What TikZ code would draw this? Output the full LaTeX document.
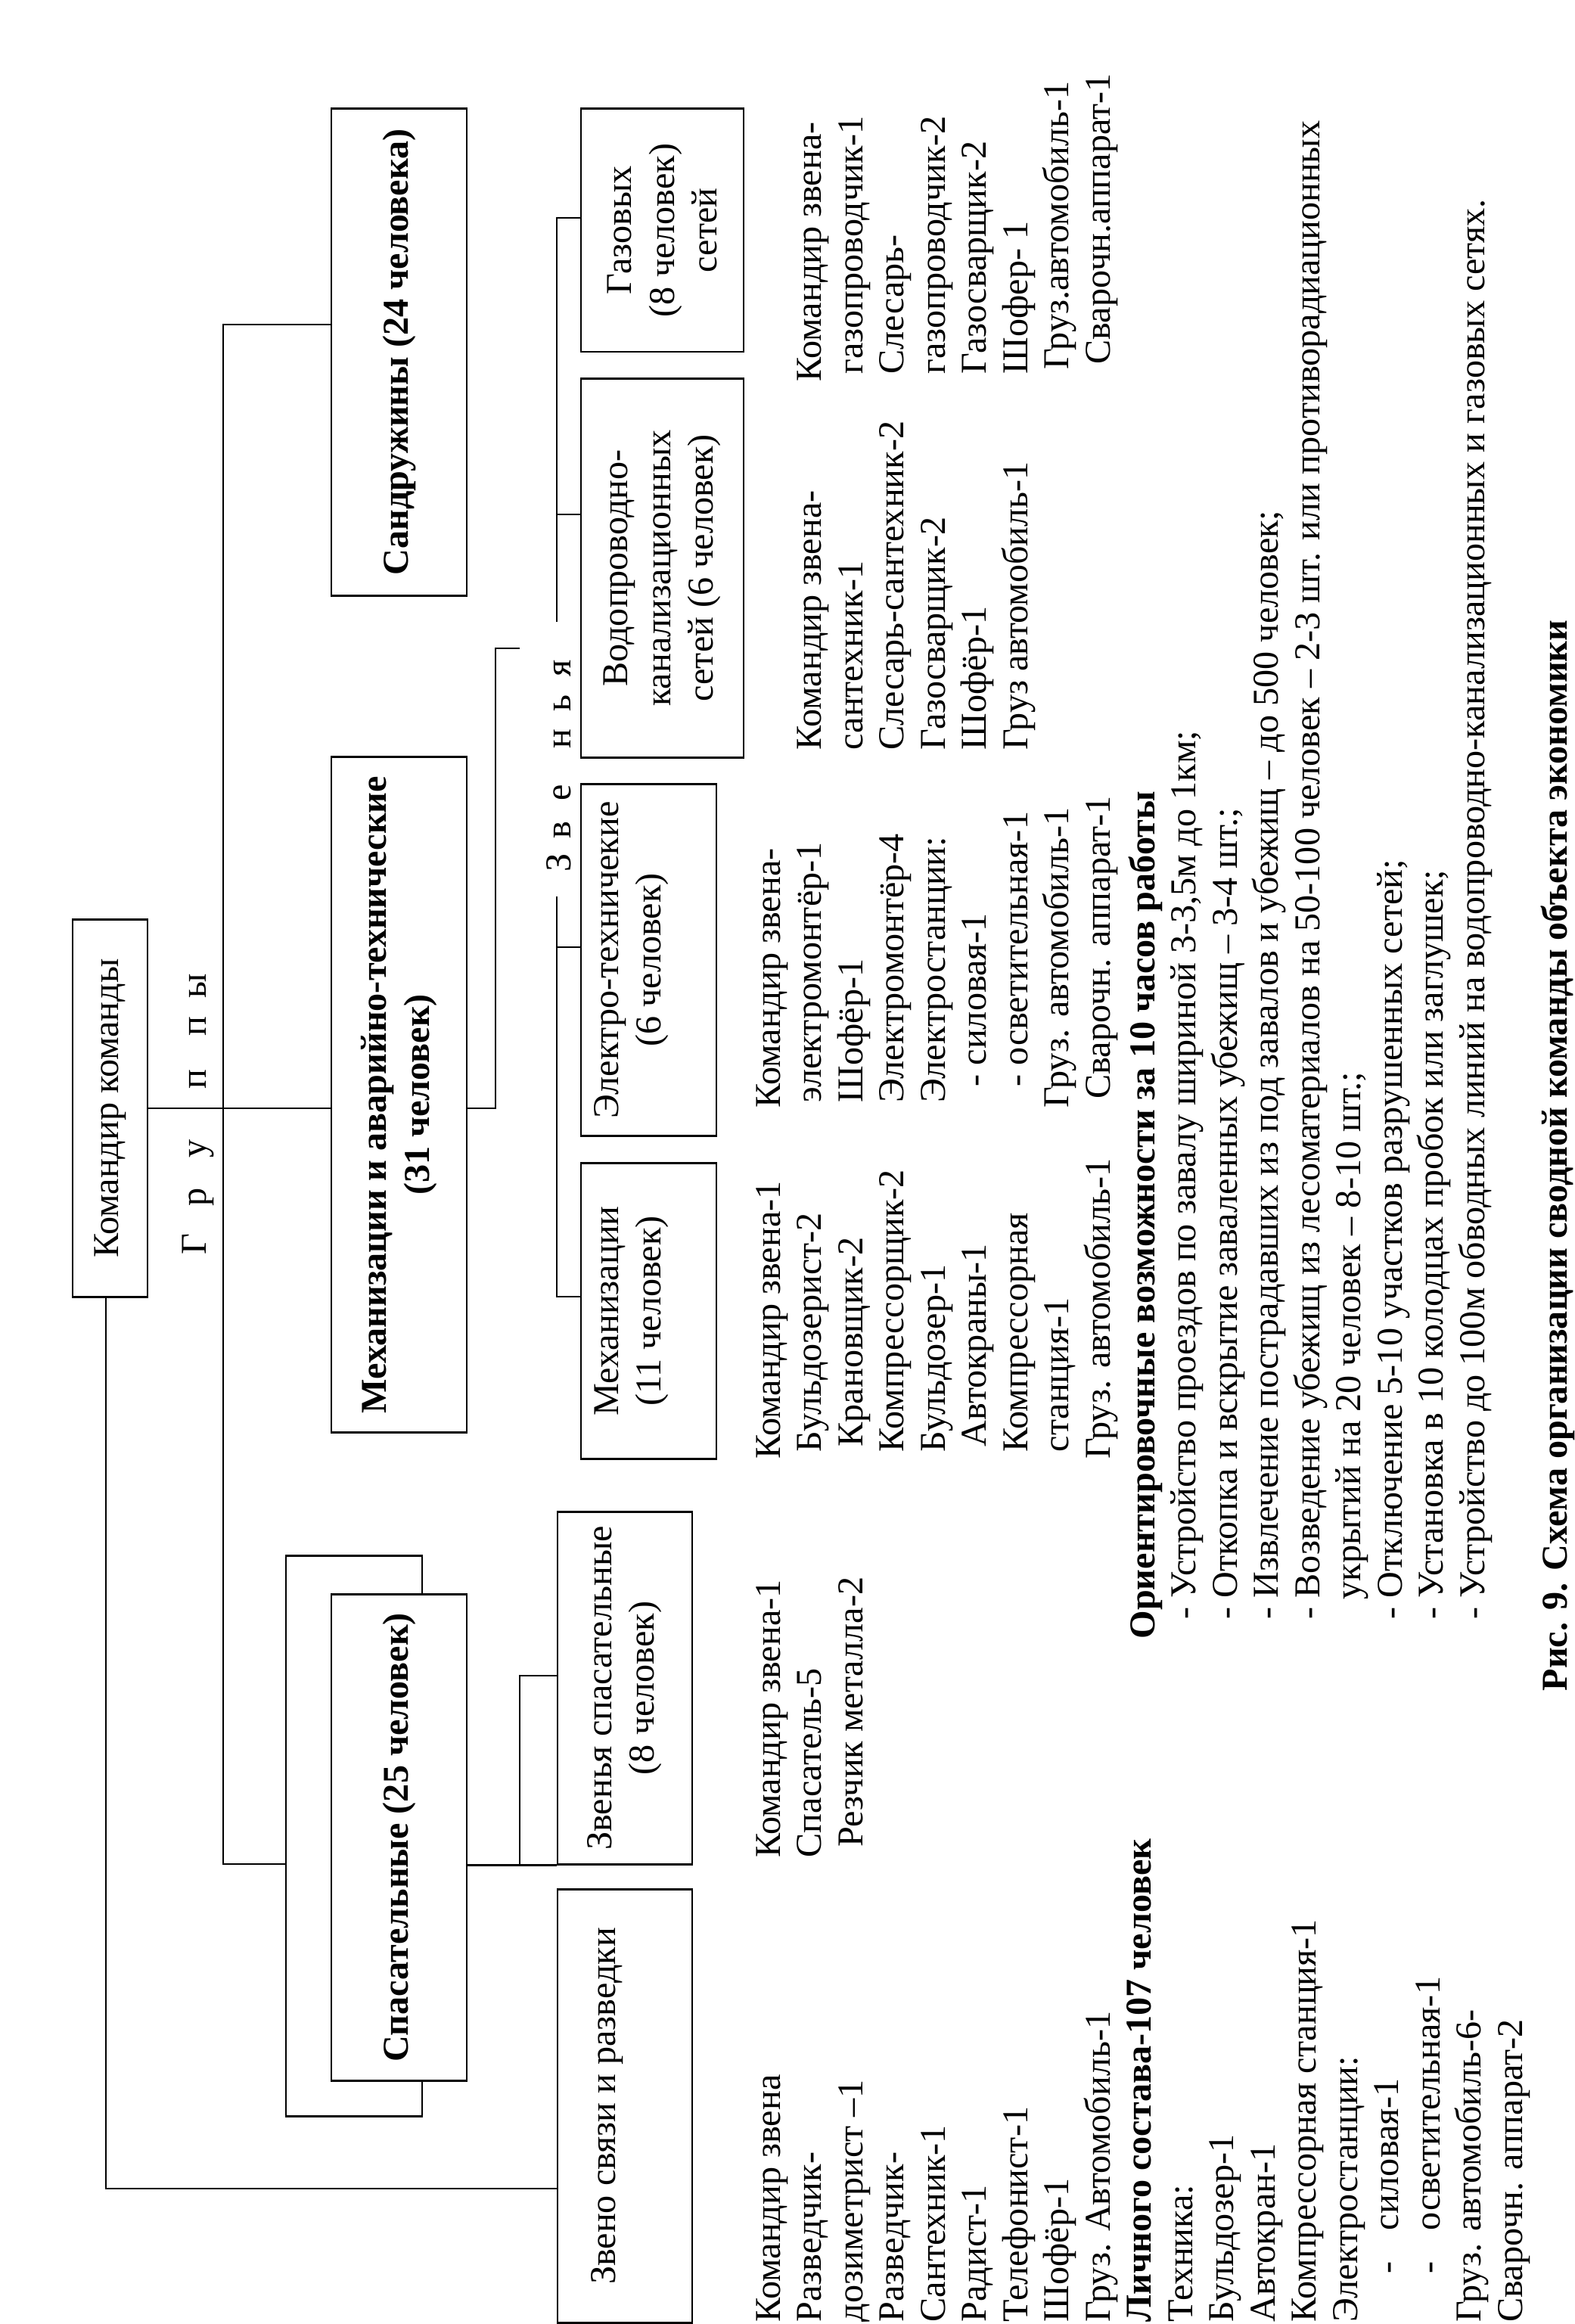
\documentclass[tikz,border=0pt]{standalone}
\usepackage{fontspec}
\setmainfont{Liberation Serif}
\tikzset{
  gbox/.style={draw,line width=0.8pt,fill=white,align=center,inner sep=0pt,font=\fontsize{13.7}{16}\selectfont},
  gbold/.style={gbox,font=\fontsize{13.7}{16}\selectfont\bfseries},
  lst/.style={anchor=base west,inner sep=0pt,font=\fontsize{13.7}{15.5}\selectfont},
  ltr/.style={anchor=base,inner sep=0pt,font=\fontsize{13.7}{15.5}\selectfont},
  link/.style={line width=0.8pt},
}

\begin{document}
\begin{tikzpicture}[x=0.01cm,y=0.01cm]
\begin{scope}[rotate=90,transform shape]
  \fill[white] (0,-2081) rectangle (3072,0);
  \useasboundingbox (0,-2081) rectangle (3072,0);

  % groups
  \node[gbox,minimum width=4.98cm,minimum height=0.99cm] (kom) at (1607,-145.5) {Командир команды};
  \node[gbold,minimum width=6.43cm,minimum height=1.79cm] (sandr) at (2606.5,-527.5) {Сандружины (24 человека)};
  \node[gbold,minimum width=8.92cm,minimum height=1.79cm] (mekh) at (1625,-527.5) {Механизации и аварийно-технические\\(31 человек)};
  \node[gbox,minimum width=7.40cm,minimum height=1.80cm] (spasout) at (645,-468) {};
  \node[gbold,minimum width=6.42cm,minimum height=1.79cm] (spas) at (643,-527.5) {Спасательные (25 человек)};

  % units
  \node[gbox,minimum width=5.72cm,minimum height=1.78cm] (svyaz) at (288,-826) {Звено связи и разведки\\\mbox{}};
  \node[gbox,minimum width=4.65cm,minimum height=1.78cm] (zspas) at (840.5,-826) {Звенья спасательные\\(8 человек)};
  \node[gbox,minimum width=3.90cm,minimum height=1.79cm] (zmekh) at (1339,-857.5) {Механизации\\(11 человек)\\\mbox{}};
  \node[gbox,minimum width=4.64cm,minimum height=1.79cm] (zelek) at (1803,-857.5) {Электро-техничекие\\(6 человек)\\\mbox{}};
  \node[gbox,minimum width=5.00cm,minimum height=2.15cm] (zvod) at (2321,-875.5) {Водопроводно-\\канализационных\\сетей (6 человек)};
  \node[gbox,minimum width=3.21cm,minimum height=2.15cm] (zgaz) at (2767.5,-875.5) {Газовых\\(8 человек)\\сетей};

  \foreach \c/\xx in {Г/1427,р/1490,у/1554,п/1645,п/1715,ы/1769}
    \node[ltr] (gr\xx) at (\xx,-272) {\c};
  \foreach \c/\xx in {З/1932,в/1975,е/2024,н/2095,ь/2142,я/2189}
    \node[ltr] (zv\xx) at (\xx,-754) {\c};

  % connectors
  \coordinate (busT) at (2643,-295);
  \coordinate (busB) at (608,-295);
  \draw[link] (busT |- sandr.north) -- (busT) -- (busB) -- (busB |- spasout.north);
  \draw[link] (kom.south) -- (kom.south |- mekh.north);
  \coordinate (komL) at (179,-140);
  \draw[link] (kom.west |- komL) -- (komL) -- (komL |- svyaz.north);
  \coordinate (mkJ) at (2215,-655);
  \coordinate (zvEnd) at (2215,-687);
  \draw[link] (kom.south |- mekh.south) -- (kom.south |- mkJ) -- (mkJ) -- (zvEnd);
  \coordinate (zbA) at (2784,-736);
  \coordinate (zbB) at (2250,-736);
  \coordinate (zbC) at (1887,-736);
  \coordinate (zbD) at (1358,-736);
  \coordinate (zbV) at (2392,-736);
  \coordinate (zbE) at (1820,-736);
  \draw[link] (zbA |- zgaz.north) -- (zbA) -- (zbB);
  \draw[link] (zbV) -- (zbV |- zvod.north);
  \draw[link] (zbC) -- (zbD) -- (zbD |- zmekh.north);
  \draw[link] (zbE) -- (zbE |- zelek.north);
  \draw[link] (spas.south -| zspas.north west) -- (zspas.north west);
  \coordinate (spJ) at (608,-687);
  \coordinate (spK) at (857,-687);
  \draw[link] (spJ) -- (spK) -- (spK |- zspas.north);

  % lists
  \foreach \t [count=\i from 0] in {Командир звена,Разведчик-,дозиметрист –1,Разведчик-,Сантехник-1,Радист-1,Телефонист-1,Шофёр-1,Груз. Автомобиль-1,\textbf{Личного состава-107 человек},Техника:,Бульдозер-1,Автокран-1,Компрессорная станция-1,Электростанции:,\hspace*{6.4mm}-\hspace{4.1mm}силовая-1,\hspace*{6.4mm}-\hspace{4.1mm}осветительная-1,Груз. автомобиль-6-,Сварочн. аппарат-2}
    \node[lst] (sv\i) at (2,{-1031-54.5*\i}) {\t};
  \foreach \t/\xx [count=\i from 0] in {Командир звена-1/616,Спасатель-5/616,Резчик металла-2/630}
    \node[lst] (zs\i) at (\xx,{-1031-54.5*\i}) {\t};
  \foreach \t/\xx [count=\i from 0] in {Командир звена-1/1143,Бульдозерист-2/1152,Крановщик-2/1159,Компрессорщик-2/1152,Бульдозер-1/1152,Автокраны-1/1159,Компрессорная/1152,станция-1/1152,Груз. автомобиль-1/1143}
    \node[lst] (zm\i) at (\xx,{-1031-54.5*\i}) {\t};
  \foreach \t/\xx [count=\i from 0] in {Командир звена-/1607,электромонтёр-1/1614,Шофёр-1/1614,Электромонтёр-4/1614,Электростанции:/1614,- силовая-1/1635,- осветительная-1/1635,Груз. автомобиль-1/1607,Сварочн. аппарат-1/1619}
    \node[lst] (ze\i) at (\xx,{-1031-54.5*\i}) {\t};
  \foreach \t [count=\i from 1] in {Командир звена-,сантехник-1,Слесарь-сантехник-2,Газосварщик-2,Шофёр-1,Груз автомобиль-1}
    \node[lst] (zw\i) at (2080,{-1031-54.5*\i}) {\t};
  \foreach \t/\xx [count=\i from 1] in {Командир звена-/2567,газопроводчик-1/2577,Слесарь-/2577,газопроводчик-2/2577,Газосварщик-2/2577,Шофер- 1/2577,Груз.автомобиль-1/2583,Сварочн.аппарат-1/2590}
    \node[lst] (zg\i) at (\xx,{-1031-54.5*\i}) {\t};

  % capabilities
  \foreach \t/\xx [count=\i from 0] in {{\textbf{Ориентировочные возможности за 10 часов работы}}/905,
      {- Устройство проездов по завалу шириной 3-3,5м до 1км;}/931,
      {- Откопка и вскрытие заваленных убежищ – 3-4 шт.;}/931,
      {- Извлечение пострадавших из под завалов и убежищ – до 500 человек;}/931,
      {- Возведение убежищ из лесоматериалов на 50-100 человек – 2-3 шт. или противорадиационных}/931,
      {укрытий на 20 человек – 8-10 шт.;}/957,
      {- Отключение 5-10 участков разрушенных сетей;}/931,
      {- Установка в 10 колодцах пробок или заглушек;}/931,
      {- Устройство до 100м обводных линий на водопроводно-канализационных и газовых сетях.}/931}
    \node[lst] (cap\i) at (\xx,{-1526-54.5*\i}) {\t};
  \node[lst,font=\fontsize{13.7}{15.5}\selectfont\bfseries] (title) at (836,-2071) {Рис. 9. Схема организации сводной команды объекта экономики};
\end{scope}
\end{tikzpicture}
\end{document}
